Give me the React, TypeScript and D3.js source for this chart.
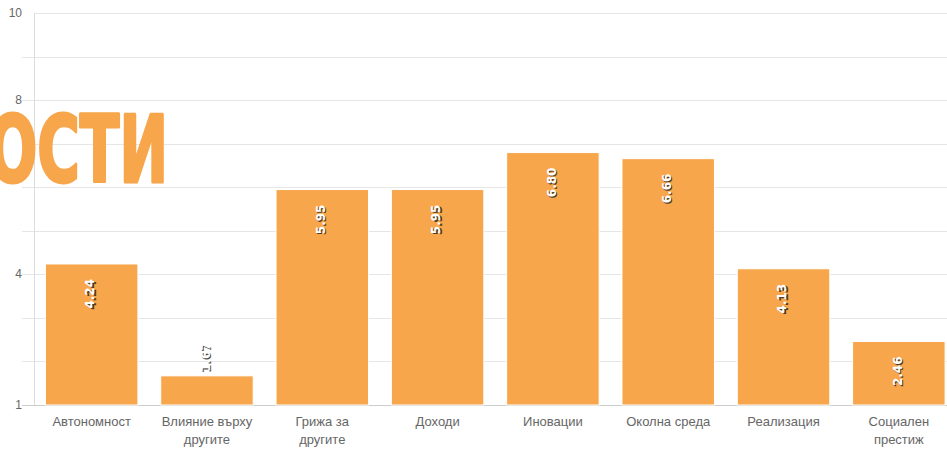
import React from "react";
import * as d3 from "d3";

const categories = [
  "Автономност",
  "Влияние върху другите",
  "Грижа за другите",
  "Доходи",
  "Иновации",
  "Околна среда",
  "Реализация",
  "Социален престиж",
];
const categoryLines = [
  ["Автономност"],
  ["Влияние върху", "другите"],
  ["Грижа за", "другите"],
  ["Доходи"],
  ["Иновации"],
  ["Околна среда"],
  ["Реализация"],
  ["Социален", "престиж"],
];
const values = [4.24, 1.67, 5.95, 5.95, 6.8, 6.66, 4.13, 2.46];
const gridValues = [1, 2, 3, 4, 5, 6, 7, 8, 9, 10];
const tickLabels = [10, 8, 4, 1];
const titleFragment = "ОСТИ";

const W = 947;
const H = 454;
const ORANGE = "#F8A64B";
const FONT = "'Liberation Sans', Arial, sans-serif";

export default function App() {
  const y = d3.scaleLinear().domain([1, 10]).range([405, 13.3]);
  const x = d3
    .scaleBand<string>()
    .domain(categories)
    .range([34, 956.5])
    .paddingInner(0.198)
    .paddingOuter(0.099);
  const bw = x.bandwidth();

  return (
    <svg
      width={W}
      height={H}
      style={{ position: "absolute", left: 0, top: 0, background: "#fff" }}
      fontFamily={FONT}
    >
      {gridValues.map((g) => (
        <line
          key={g}
          x1={g === 10 ? 34 : 22}
          x2={W}
          y1={Math.round(y(g)) + 0.5}
          y2={Math.round(y(g)) + 0.5}
          stroke="#e6e6e6"
          strokeWidth={1}
        />
      ))}
      <line x1={34.5} x2={34.5} y1={y(10)} y2={y(1)} stroke="#dcdcdc" />
      <line x1={22} x2={W} y1={405.5} y2={405.5} stroke="#ccc" />
      {tickLabels.map((t) => (
        <text
          key={t}
          x={22}
          y={y(t)}
          dy="0.32em"
          textAnchor="end"
          fontSize={12}
          fill="#666"
        >
          {t}
        </text>
      ))}
      {values.map((v, i) => {
        const c = categories[i];
        const x0 = x(c)!;
        const top = y(v);
        return (
          <rect
            key={c}
            x={x0}
            y={top}
            width={bw}
            height={y(1) - top}
            fill={ORANGE}
            stroke="#fff"
            strokeWidth={1}
          />
        );
      })}
      {values.map((v, i) => {
        const c = categories[i];
        const cx = x(c)! + bw / 2 - 1.5;
        const top = y(v);
        const inside = y(1) - top > 50;
        const ty = inside ? top + 15 : top - 4;
        const anchor = inside ? "end" : "start";
        const label = v.toFixed(2);
        const lf = "'DejaVu Sans', Verdana, sans-serif";
        return (
          <g key={c + "l"}>
            <text
              transform={`translate(${cx + 1.2},${ty + 1.2}) rotate(-90)`}
              textAnchor={anchor}
              dy="0.36em"
              fontSize={12}
              fontWeight="bold"
              fontFamily={lf}
              fill="#222"
              opacity={0.8}
            >
              {label}
            </text>
            <text
              transform={`translate(${cx},${ty}) rotate(-90)`}
              textAnchor={anchor}
              dy="0.36em"
              fontSize={12}
              fontWeight="bold"
              fontFamily={lf}
              fill="#fff"
            >
              {label}
            </text>
          </g>
        );
      })}
      {categoryLines.map((lines, i) => {
        const cx = x(categories[i])! + bw / 2;
        return (
          <text key={i} textAnchor="middle" fontSize={13} fill="#666">
            {lines.map((l, j) => (
              <tspan key={j} x={cx} y={426 + j * 18}>
                {l}
              </tspan>
            ))}
          </text>
        );
      })}
      <text
        x={-12}
        y={182}
        fontSize={93}
        fontWeight="bold"
        fill={ORANGE}
        stroke={ORANGE}
        strokeWidth={3}
        strokeLinejoin="round"
        fontFamily="'Liberation Sans Narrow', 'DejaVu Sans Condensed', 'Liberation Sans', sans-serif"
        textLength={180}
        lengthAdjust="spacingAndGlyphs"
      >
        {titleFragment}
      </text>
    </svg>
  );
}
